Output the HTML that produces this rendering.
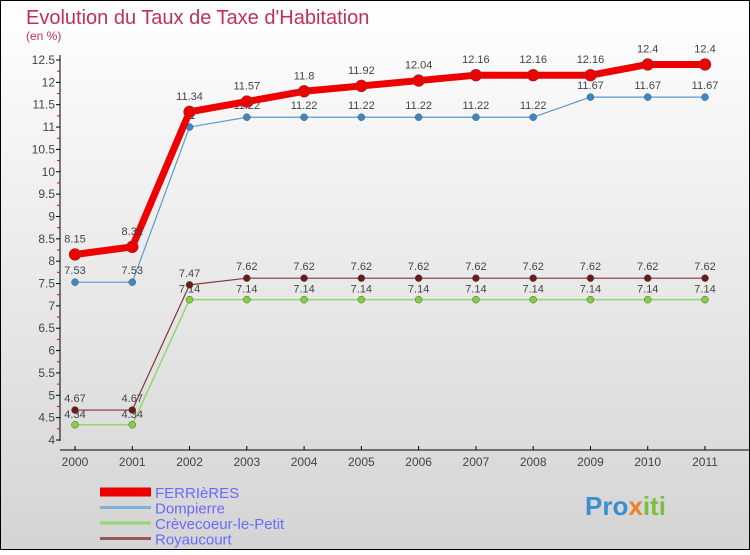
<!DOCTYPE html>
<html><head><meta charset="utf-8"><style>
html,body{margin:0;padding:0}
body{width:750px;height:550px;overflow:hidden;font-family:"Liberation Sans",sans-serif}
</style></head><body>
<svg id="chart" width="750" height="550" xmlns="http://www.w3.org/2000/svg">
<defs><linearGradient id="bg" x1="0" y1="0" x2="0" y2="1"><stop offset="0" stop-color="#ffffff"/><stop offset="1" stop-color="#d4d4d4"/></linearGradient></defs>
<rect x="0.5" y="0.5" width="749" height="549" fill="url(#bg)" stroke="#000"/>
<text x="26" y="24" font-size="20" fill="#c0305a">Evolution du Taux de Taxe d'Habitation</text>
<text x="26" y="40" font-size="12" fill="#c0305a">(en %)</text>
<g id="axes"></g><g id="series"></g><g id="legend"></g>
<text x="585" y="515" font-size="26" font-weight="bold" fill="#3a8fd0">Pro<tspan fill="#f08020">x</tspan><tspan fill="#7cc040">iti</tspan></text>
</svg>
<script>
const years=[2000,2001,2002,2003,2004,2005,2006,2007,2008,2009,2010,2011];
const ferrieres=[8.15,8.32,11.34,11.57,11.8,11.92,12.04,12.16,12.16,12.16,12.4,12.4];
const dompierre=[7.53,7.53,11,11.22,11.22,11.22,11.22,11.22,11.22,11.67,11.67,11.67];
const crevecoeur=[4.34,4.34,7.14,7.14,7.14,7.14,7.14,7.14,7.14,7.14,7.14,7.14];
const royaucourt=[4.67,4.67,7.47,7.62,7.62,7.62,7.62,7.62,7.62,7.62,7.62,7.62];
const yTicks=[4,4.5,5,5.5,6,6.5,7,7.5,8,8.5,9,9.5,10,10.5,11,11.5,12,12.5];
const seriesNames=["FERRIèRES","Dompierre","Crèvecoeur-le-Petit","Royaucourt"];
const NS="http://www.w3.org/2000/svg";
const X=i=>75+i*(630/11);
const Y=v=>440-(v-4)*(380/8.5);
function mk(p,t,a){const e=document.createElementNS(NS,t);for(const k in a)e.setAttribute(k,a[k]);p.appendChild(e);return e;}
const ax=document.getElementById('axes');
let yl=mk(ax,'line',{x1:60,y1:55,x2:60,y2:441,stroke:'#000'});


let xl=mk(ax,'line',{x1:60,y1:450,x2:750,y2:450,stroke:'#000'});


yTicks.forEach(v=>{
  mk(ax,'line',{x1:56,y1:Y(v),x2:60,y2:Y(v),stroke:'#000'});
  if(v<12.5) mk(ax,'line',{x1:57,y1:Y(v+0.25),x2:60,y2:Y(v+0.25),stroke:'#e00'});
  const t=mk(ax,'text',{x:55,y:Y(v)+4,'font-size':12,'text-anchor':'end',fill:'#444'});
  t.textContent=v;
  
  
});
years.forEach((y,i)=>{
  mk(ax,'line',{x1:X(i),y1:446,x2:X(i),y2:450,stroke:'#000'});
  const t=mk(ax,'text',{x:X(i),y:466,'font-size':12,'text-anchor':'middle',fill:'#444'});
  t.textContent=y;
  
  
});
const sg=document.getElementById('series');
function draw(vals,color,w,r,dot,name,lblOff){
  const g=mk(sg,'g',{});
  
  
  mk(g,'polyline',{points:vals.map((v,i)=>X(i)+','+Y(v)).join(' '),fill:'none',stroke:color,'stroke-width':w,'stroke-linejoin':'round'});
  vals.forEach((v,i)=>{
    const c=mk(g,'circle',{cx:X(i),cy:Y(v),r:r,fill:dot,stroke:'#555','stroke-width':0.5});
    
    
    const t=mk(g,'text',{x:X(i),y:Y(v)+lblOff,'font-size':11,'text-anchor':'middle',fill:'#444'});
    t.textContent=v;
    
    
  });
}
draw(crevecoeur,'#90d870',1.5,3.5,'#80d040','crevecoeur-series',-7);
draw(royaucourt,'#803838',1.2,3.5,'#6a1a1a','royaucourt-series',-8);
draw(dompierre,'#5a9ad0',1.2,3.5,'#3a88c8','dompierre-series',-8);
draw(ferrieres,'#ee0000',7,6,'#ee0000','ferrieres-series',-12);
const lg=document.getElementById('legend');
const lc=['#ee0000','#80b0d8','#90d870','#985858'],lw=[9,3,3,3];
seriesNames.forEach((n,i)=>{
  const g=mk(lg,'g',{});
  
  
  const y=492+i*15.5;
  mk(g,'line',{x1:100,y1:y,x2:151,y2:y,stroke:lc[i],'stroke-width':lw[i]});
  const t=mk(g,'text',{x:155,y:y+6,'font-size':15,fill:'#6a6aff'});
  t.textContent=n;
});
</script>
</body></html>
